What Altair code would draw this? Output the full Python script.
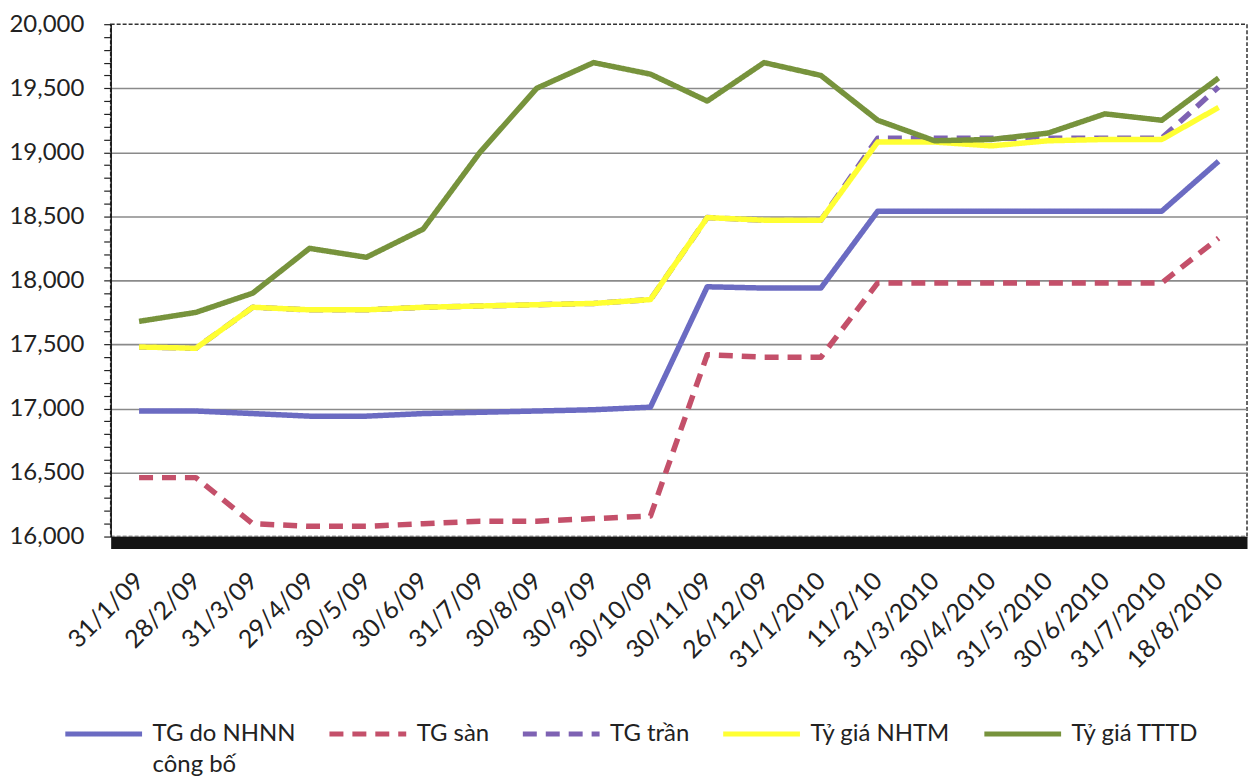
import altair as alt
import pandas as pd

categories = ["31/1/09", "28/2/09", "31/3/09", "29/4/09", "30/5/09", "30/6/09",
              "31/7/09", "30/8/09", "30/9/09", "30/10/09", "30/11/09", "26/12/09",
              "31/1/2010", "11/2/10", "31/3/2010", "30/4/2010", "31/5/2010",
              "30/6/2010", "31/7/2010", "18/8/2010"]

series_names = ["TG do NHNN công bố", "TG sàn", "TG trần", "Tỷ giá NHTM", "Tỷ giá TTTD"]

nhnn = [16980, 16980, 16960, 16940, 16940, 16960, 16970, 16980, 16990, 17010,
        17950, 17940, 17940, 18540, 18540, 18540, 18540, 18540, 18540, 18930]
san = [16460, 16460, 16100, 16080, 16080, 16100, 16120, 16120, 16140, 16160,
       17420, 17400, 17400, 17980, 17980, 17980, 17980, 17980, 17980, 18330]
tran = [17480, 17470, 17790, 17770, 17770, 17790, 17800, 17810, 17820, 17850,
        18490, 18470, 18470, 19110, 19110, 19110, 19110, 19110, 19110, 19510]
nhtm = [17480, 17470, 17790, 17770, 17770, 17790, 17800, 17810, 17820, 17850,
        18490, 18470, 18470, 19080, 19080, 19050, 19090, 19100, 19100, 19350]
tttd = [17680, 17750, 17900, 18250, 18180, 18400, 19000, 19500, 19700, 19610,
        19400, 19700, 19600, 19250, 19090, 19100, 19150, 19300, 19250, 19580]

colors = ["#6B6BC2", "#C4506A", "#7E62B3", "#FFFF33", "#77933C"]
dashes = [[1, 0], [14, 9], [14, 9], [1, 0], [1, 0]]

rows = []
for name, vals in zip(series_names, [nhnn, san, tran, nhtm, tttd]):
    for c, v in zip(categories, vals):
        rows.append({"date": c, "series": name, "value": v})
df = pd.DataFrame(rows)

minor_values = list(range(16000, 20001, 100))

x_enc = alt.X("date:N", sort=categories, title=None,
              scale=alt.Scale(padding=0.5),
              axis=alt.Axis(labelAngle=-45, labelAlign="right", labelBaseline="middle",
                            labelFontSize=25, labelColor="#222", labelPadding=34,
                            ticks=False, domainColor="#151515", domainWidth=12,
                            offset=6, grid=False))
y_enc = alt.Y("value:Q", title=None,
              scale=alt.Scale(domain=[16000, 20000], nice=False, zero=False),
              axis=alt.Axis(values=minor_values,
                            labelExpr="datum.value % 500 === 0 ? format(datum.value, ',') : ''",
                            labelFontSize=24, labelColor="#222", labelPadding=20,
                            tickSize=7, tickColor="#222", tickWidth=1.2,
                            domainColor="#111", domainWidth=1.5,
                            grid=True, gridColor="#8a8a8a", gridWidth=1.6,
                            gridOpacity={"condition": {"test": "datum.value % 500 === 0 && datum.value < 20000", "value": 1}, "value": 0}))

color_enc = alt.Color("series:N", scale=alt.Scale(domain=series_names, range=colors),
                      sort=series_names,
                      legend=alt.Legend(title=None, orient="none", direction="horizontal",
                                        legendX=-48, legendY=671,
                                        symbolType="stroke", symbolSize=5929,
                                        symbolStrokeWidth=5, labelFontSize=24,
                                        labelColor="#222", labelLimit=300,
                                        columnPadding=23, labelOffset=8,
                                        labelBaseline="middle",
                                        labelExpr="datum.label == 'TG do NHNN công bố' ? ['TG do NHNN', 'công bố'] : [datum.label, '']"))
dash_enc = alt.StrokeDash("series:N", scale=alt.Scale(domain=series_names, range=dashes),
                          sort=series_names, legend=None)

base = alt.Chart(df)
layers = []
for name in series_names:
    layers.append(
        base.transform_filter(alt.datum.series == name)
        .mark_line(strokeWidth=5.5, strokeCap="butt", strokeJoin="round")
        .encode(x=x_enc, y=y_enc, color=color_enc, strokeDash=dash_enc)
    )

chart = alt.layer(*layers).properties(
    width=1140, height=514,
    padding={"left": 0, "top": 3, "right": 2, "bottom": 2}
).configure(
    font="Lato",
    style={"guide-label": {"lineHeight": 31}}
).configure_view(
    stroke="#333", strokeDash=[4, 2], strokeWidth=1.5
)

chart.save("out.html", embed_options={"renderer": "svg", "actions": False})
